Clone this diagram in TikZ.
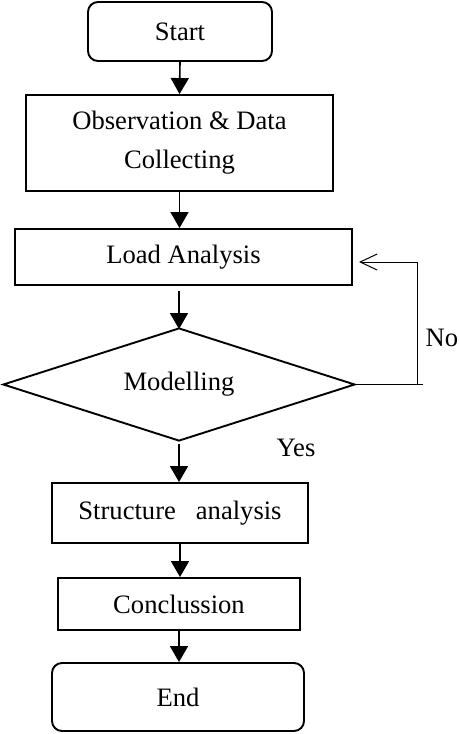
\documentclass[tikz,border=0pt]{standalone}
\usepackage{fontspec}
\setmainfont{Liberation Serif}
\usetikzlibrary{shapes.geometric,arrows.meta}
\begin{document}
\begin{tikzpicture}[x=1pt,y=-1pt,
  every node/.style={font=\fontsize{26.6}{39}\selectfont, inner sep=0pt},
  boxline/.style={draw, line width=1.9pt},
  termbox/.style={boxline, rounded corners=10pt},
  procbox/.style={boxline},
  decbox/.style={boxline, diamond, aspect=3},
  arr/.style={line width=1.6pt, -{Triangle[width=18pt,length=16pt]}},
  loopline/.style={line width=1pt},
  openarr/.style={loopline, -{Straight Barb[length=17pt,width=16pt]}}]
\path[use as bounding box] (0,0) rectangle (459,734);

\node[termbox, minimum width=184pt, minimum height=59pt] (start) at (180,31.5) {Start};
\node[procbox, minimum width=307pt, minimum height=96pt, align=center] (obs) at (179.5,143) {Observation \& Data\\Collecting};
\node[procbox, minimum width=337pt, minimum height=56pt] (load) at (183.5,257) {Load Analysis};
\node[decbox, minimum width=352pt, minimum height=113pt] (dia) at (179,384.5) {Modelling};
\node[procbox, minimum width=256pt, minimum height=60pt] (struct) at (180,513) {Structure\ \ \ analysis};
\node[procbox, minimum width=242pt, minimum height=52pt] (concl) at (179,604) {Conclussion};
\node[termbox, minimum width=252pt, minimum height=68pt] (end) at (178,697) {End};

\node[anchor=west] (no) at (425.5,338) {No};
\node (yes) at (296,448) {Yes};

\draw[arr] (start.south) -- (obs.north);
\draw[arr] (obs.south) -- (obs.south |- load.north);
\draw[arr] ([yshift=-5pt]dia.north |- load.south) -- ([yshift=-2pt]dia.north);
\draw[arr] ([yshift=-2pt]dia.south) -- (dia.south |- struct.north);
\draw[arr] (struct.south) -- (struct.south |- concl.north);
\draw[arr] (concl.south) -- (concl.south |- end.north);

\coordinate (nocorner) at (417,262);
\coordinate (notip) at (359,262);
\coordinate (noend) at (423,384.5);
\draw[loopline] (dia.east) -- (noend);
\draw[openarr] (dia.east -| nocorner) -- (nocorner) -- (notip);
\end{tikzpicture}
\end{document}
